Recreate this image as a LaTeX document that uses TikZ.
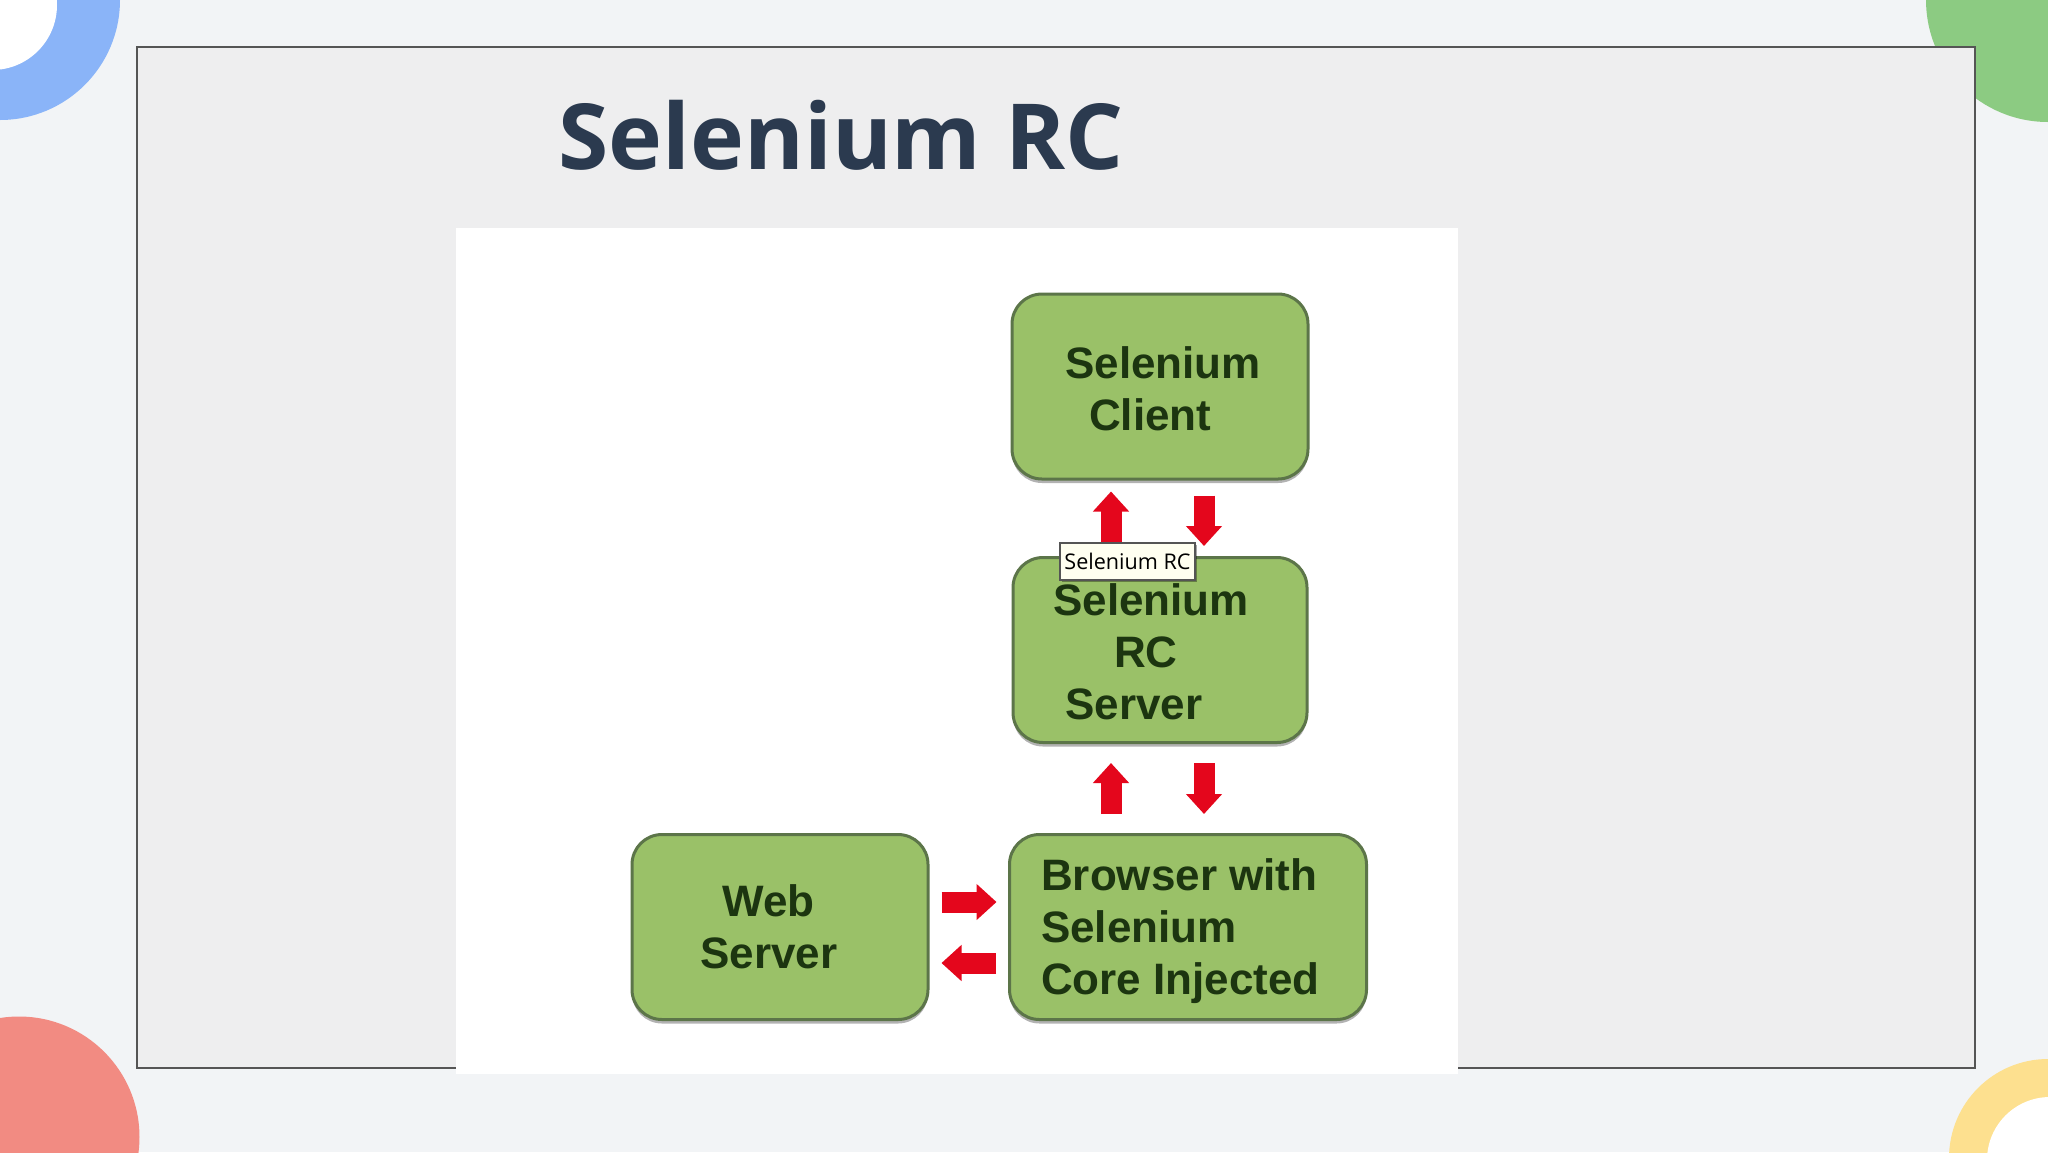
\documentclass[tikz,border=0pt]{standalone}
\usepackage{fontspec}
\setmainfont{Liberation Sans}
\newfontfamily\titlefont{Open Sans}
\usetikzlibrary{arrows.meta,shadows}
\definecolor{pagebg}{HTML}{F2F4F6}
\definecolor{framefill}{HTML}{EEEEEF}
\definecolor{frameline}{HTML}{555555}
\definecolor{blobblue}{HTML}{8AB4F8}
\definecolor{blobgreen}{HTML}{8CCB82}
\definecolor{blobred}{HTML}{F28B82}
\definecolor{blobyellow}{HTML}{FDE08F}
\definecolor{titleink}{HTML}{2B3A4F}
\definecolor{boxfill}{HTML}{9AC168}
\definecolor{boxline}{HTML}{5C7549}
\definecolor{boxink}{HTML}{1C3510}
\definecolor{arrowred}{HTML}{E4061C}
\definecolor{tipfill}{HTML}{FFFFF0}
\newcommand{\boxfont}{\fontsize{22}{26}\bfseries\selectfont}
\tikzset{
  greenbox/.style={draw=boxline,line width=1.5pt,fill=boxfill,rounded corners=15pt,
    minimum width=#1,minimum height=92.5pt,inner sep=0pt,align=left,text=boxink,font=\boxfont,
    drop shadow={shadow xshift=0pt,shadow yshift=-2pt,opacity=.3,fill=black}},
  redarrow/.style={draw=arrowred,line width=10.5pt,
    -{Triangle[length=10pt,width=17.5pt,fill=arrowred]}},
  tipbox/.style={draw=frameline,line width=.8pt,fill=tipfill,minimum width=67.5pt,minimum height=18.5pt,
    inner sep=0pt,font=\titlefont\fontsize{10.8}{14}\selectfont,text=black,
    drop shadow={shadow xshift=1pt,shadow yshift=-1pt,opacity=.35,fill=black}}
}
\begin{document}
\begin{tikzpicture}[x=0.5pt,y=-0.5pt]
\useasboundingbox (0,0) rectangle (2048,1152);
\clip (0,0) rectangle (2048,1152);
\fill[pagebg] (0,0) rectangle (2048,1152);
% corner blobs
\fill[blobblue] (0,0) circle (120);
\fill[white] (-8,5) circle (65);
\fill[blobgreen] (2048,0) circle (122);
\fill[blobred] (19,1137) circle (120.5);
\fill[blobyellow] (2048,1158) circle (99);
\fill[white] (2050,1160) circle (63);
% frame and picture
\draw[frameline,fill=framefill,line width=1pt] (137,47) rectangle (1975,1068);
\fill[white] (456,228) rectangle (1458,1073.5);
\node[anchor=base west,inner sep=0pt,text=titleink,font=\titlefont\fontsize{45.6}{50}\bfseries\selectfont] (title) at (558,169) {Selenium RC};
% boxes
\node[greenbox=148pt] (client) at (1160,386.5) {\rule{0pt}{18pt}\hspace*{3pt}Selenium\\\hspace*{15pt}Client};
\node[greenbox=147pt] (server) at (1160,650) {\rule{0pt}{18pt}Selenium\hspace*{9pt}\\\hspace*{30.5pt}RC\\\hspace*{6pt}Server};
\node[greenbox=148pt] (web) at (780,927) {\hspace*{11pt}Web\\Server\hspace*{11pt}};
\node[greenbox=178.5pt] (browser) at (1188,927) {\rule{0pt}{20.5pt}Browser with\\Selenium\\Core Injected\hspace*{7.5pt}};
% arrows
\draw[redarrow,shorten <=6.5pt,shorten >=5.5pt] ([xshift=-24.5pt]server.north) -- ([xshift=-24.5pt]client.south);
\draw[redarrow,shorten <=7.5pt,shorten >=5pt] ([xshift=22pt]client.south) -- ([xshift=22pt]server.north);
\draw[redarrow,shorten <=9.5pt,shorten >=9.5pt] ([xshift=-24.5pt]server.south |- browser.north) -- ([xshift=-24.5pt]server.south);
\draw[redarrow,shorten <=9.5pt,shorten >=9.5pt] ([xshift=22pt]server.south) -- ([xshift=22pt]server.south |- browser.north);
\draw[redarrow,shorten <=6pt,shorten >=5.75pt] ([yshift=12.5pt]web.east) -- ([yshift=12.5pt]web.east -| browser.west);
\draw[redarrow,shorten <=6pt,shorten >=6pt] ([yshift=-18pt]web.east -| browser.west) -- ([yshift=-18pt]web.east);
% tooltip
\node[tipbox] (tip) at (1127.5,561.5) {Selenium RC};
\end{tikzpicture}
\end{document}
